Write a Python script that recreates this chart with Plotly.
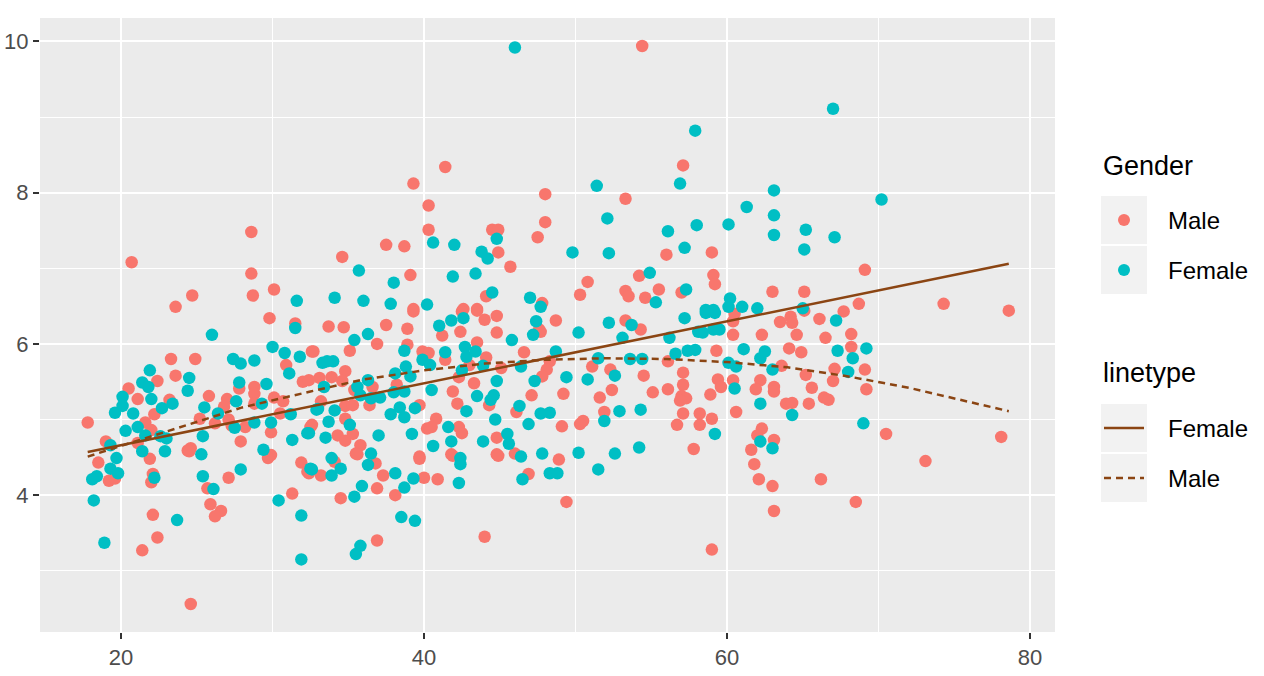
import plotly.graph_objects as go

# ---------------- data ----------------
male_age = [17.8, 19.0, 18.5, 19.2, 19.6, 20.5, 21.1, 21.6, 22.0, 21.1, 22.4, 22.2, 23.2, 23.6, 23.3, 24.9, 23.6,
            21.9, 22.1, 22.0, 25.2, 24.6, 24.4, 25.8, 26.2, 27.0, 26.8, 27.8, 28.8, 28.8, 28.8, 30.1, 30.7, 30.5,
            27.1, 27.3, 27.9, 28.2, 29.9, 29.9, 29.7, 32.5, 32.0, 32.6, 30.9, 31.5, 29.8, 20.7, 28.6, 28.6, 30.1,
            28.7, 24.7, 22.1, 22.4, 21.4, 24.6, 24.5, 27.1, 25.7, 25.9, 26.6, 26.2, 31.3, 31.9, 32.3,
            41.4, 39.3, 40.3, 40.3, 37.5, 38.7, 34.6, 39.1, 44.5, 44.9, 44.9, 45.7, 47.5, 48.0, 48.0, 44.1, 47.8,
            39.3, 42.6, 43.5,
            33.7, 34.7, 36.9, 37.5, 38.9, 39.3, 32.7, 35.1, 34.8, 33.1, 33.9, 34.6, 32.4, 36.6, 36.4, 35.4, 33.2,
            34.8, 35.3, 34.8, 32.6, 34.3, 35.3, 34.8, 35.8, 35.5, 38.9, 38.2, 39.7, 39.9, 40.3, 40.2, 40.8, 40.5,
            42.3, 42.5, 39.7, 41.8, 41.2, 42.5, 42.4, 43.5, 44.0, 44.8, 44.8, 41.4, 43.5, 43.0, 42.3, 44.1, 43.3,
            41.9, 42.2, 44.3, 45.1, 46.6, 47.6, 47.1, 46.1, 44.8, 44.8, 46.0,
            35.6, 36.8, 34.1, 33.2, 32.4, 37.3, 36.9, 34.5, 38.1, 40.0, 40.9, 39.7, 41.9, 44.9, 46.9, 36.9, 44.0,
            54.4, 57.1, 53.3, 56.0, 59.0, 54.2, 50.8, 50.3, 53.3, 53.5, 55.5, 54.6, 57.0, 59.1, 59.2, 63.0,
            48.7, 47.7, 53.3, 54.3, 60.4, 60.5, 60.4, 62.3, 48.3, 48.1, 47.8, 49.2, 51.1, 52.3, 52.4, 51.6, 51.9,
            50.5, 50.3, 49.1, 54.5, 55.1, 56.1, 57.1, 57.1, 56.1, 57.0, 57.3, 56.9, 57.1, 56.7, 58.2, 58.2, 59.0,
            58.9, 59.4, 59.6, 59.3, 60.4, 60.6, 62.2, 61.9, 57.8, 48.9, 62.3, 62.0, 61.6, 63.1,
            49.4, 59.0, 61.8, 62.1, 63.0, 63.1,
            69.1, 65.1, 68.7, 67.7, 74.3, 78.6, 65.1, 66.1, 64.2, 64.3, 63.5, 64.6, 66.5, 68.2, 64.1, 64.9, 68.2,
            63.6, 65.2, 67.1, 69.1, 67.0, 63.1, 63.1, 65.6, 69.2, 63.9, 64.3, 65.4, 66.4, 66.7, 70.5, 78.1, 73.1,
            66.2, 68.5]
male_val = [4.96, 4.71, 4.43, 4.19, 4.22, 5.41, 5.27, 4.96, 4.86, 4.69, 5.51, 5.07, 5.26, 5.58, 5.80, 5.80, 6.49,
            4.48, 4.28, 4.17, 5.01, 4.62, 4.59, 5.31, 4.95, 5.27, 5.17, 5.41, 5.43, 5.34, 5.21, 5.29, 5.24, 5.08,
            5.00, 4.92, 4.71, 4.90, 4.83, 4.53, 4.49, 4.90, 5.50, 5.90, 5.72, 6.27, 6.34, 7.08, 7.48, 6.93, 6.72,
            6.64, 6.64, 3.74, 3.44, 3.27, 2.56, 4.58, 4.23, 4.09, 3.88, 3.79, 3.72, 4.02, 4.43, 4.31,
            8.34, 8.12, 7.83, 7.51, 7.31, 7.29, 7.15, 6.91, 7.51, 7.51, 7.21, 7.02, 7.41, 7.61, 7.98, 6.63, 6.54,
            6.46, 6.46, 6.46,
            6.23, 6.22, 6.00, 6.25, 6.20, 6.43, 5.90, 5.91, 5.64, 5.55, 5.56, 5.51, 5.52, 5.43, 5.19, 5.39, 5.24,
            5.18, 5.19, 5.01, 4.93, 4.79, 4.81, 4.72, 4.66, 4.55, 5.99, 5.46, 5.19, 5.90, 5.88, 4.88, 5.01, 4.90,
            4.90, 4.82, 4.51, 4.54, 6.11, 6.43, 6.16, 6.44, 6.32, 6.37, 6.15, 5.79, 6.02, 5.72, 5.56, 5.82, 5.48,
            5.37, 5.21, 5.19, 5.68, 5.89, 6.19, 5.32, 5.10, 4.76, 4.54, 4.55,
            4.54, 4.42, 4.44, 4.26, 4.29, 4.26, 4.09, 3.96, 4.00, 4.23, 4.21, 4.48, 4.52, 4.52, 4.28, 3.40, 3.45,
            9.94, 8.36, 7.92, 7.18, 7.21, 6.90, 6.82, 6.65, 6.70, 6.63, 6.72, 6.61, 6.68, 6.91, 6.79, 6.69,
            6.31, 6.16, 6.31, 6.19, 6.30, 6.40, 6.12, 6.12, 5.77, 5.66, 5.57, 5.34, 5.70, 5.66, 5.39, 5.29, 5.10,
            4.98, 4.94, 4.91, 5.58, 5.36, 5.77, 5.62, 5.46, 5.40, 5.31, 5.28, 5.25, 5.08, 4.93, 5.08, 4.93, 5.01,
            5.33, 5.53, 5.43, 5.91, 5.52, 5.10, 5.52, 5.40, 4.61, 4.47, 4.88, 4.79, 4.60, 4.73,
            3.91, 3.28, 4.41, 4.21, 4.12, 3.79,
            6.98, 6.69, 6.53, 6.43, 6.53, 6.44, 6.44, 6.33, 6.36, 6.28, 6.29, 6.12, 6.08, 6.13, 5.94, 5.89, 5.96,
            5.71, 5.59, 5.67, 5.66, 5.51, 5.43, 5.37, 5.42, 5.40, 5.21, 5.22, 5.21, 5.29, 5.26, 4.81, 4.77, 4.45,
            4.21, 3.91]

female_age = [18.2, 18.1, 18.4, 18.9, 19.3, 19.7, 19.3, 19.8, 19.6, 20.1, 20.1, 20.8, 20.3, 21.1, 21.4, 21.9, 21.8,
              22.0, 21.6, 21.4, 22.7, 23.4, 24.5, 24.4, 26.0, 22.6, 23.0, 22.9, 25.4, 25.5, 25.3, 26.4, 27.6, 27.4,
              27.9, 28.8, 27.8, 29.3, 29.6, 31.2, 27.5, 28.8, 29.9, 29.4, 31.3, 32.3, 31.8, 31.1, 31.5, 30.0, 31.6,
              32.9, 30.8, 22.2, 23.7, 25.4, 27.9, 26.1, 30.4, 32.5, 31.9, 31.9,
              40.6, 42.0, 35.7, 38.0, 41.9, 43.4, 44.8, 43.8, 44.2, 44.5, 47.0, 47.7, 34.1, 36.0, 37.8, 40.2,
              35.4, 36.3, 33.3, 33.6, 34.0, 33.4, 36.3, 35.6, 35.8, 36.5, 37.1, 33.0, 34.1, 33.7, 35.1, 32.4, 33.5,
              36.5, 37.0, 33.9, 38.1, 38.8, 38.7, 39.1, 38.0, 38.7, 38.4, 39.4, 37.8, 38.7, 39.2, 39.9, 40.4, 40.5,
              41.6, 41.8, 40.6, 42.4, 41.0, 41.8, 42.6, 41.4, 42.7, 42.8, 43.4, 42.5, 43.9, 43.5, 42.8, 44.4, 44.6,
              44.8, 46.4, 45.8, 47.4, 47.2, 47.3, 46.3, 44.7, 45.5, 45.6, 46.9, 43.9, 47.7, 46.4, 47.8,
              36.3, 34.5, 33.9, 32.6, 38.1, 35.9, 35.4, 38.7, 39.3, 42.4, 42.3, 46.5, 38.5, 39.4, 35.8, 35.5, 46.0,
              57.9, 56.9, 51.4, 52.1, 56.1, 58.0, 60.1, 61.3, 63.1, 63.1, 63.1, 49.8, 52.2, 57.2, 54.9, 57.3, 55.3,
              60.2, 58.6, 59.1, 60.1, 61.0, 62.0,
              50.2, 52.2, 53.7, 53.1, 57.2, 58.6, 59.2, 58.1, 58.4, 59.1, 59.5, 56.2, 48.7, 49.4, 51.5, 50.8, 52.6,
              52.9, 51.9, 48.3, 54.3, 53.6, 54.4, 56.6, 57.4, 57.9, 59.2, 60.1, 60.6, 60.5, 61.1, 62.2, 62.5, 62.2,
              63.0, 54.2, 52.6, 50.2, 62.2, 63.0,
              48.3, 48.8, 51.5,
              67.0, 70.2, 65.2, 67.1, 65.1, 65.0, 67.2, 67.3, 69.2, 68.3, 68.0, 64.3, 69.0]
female_val = [3.93, 4.21, 4.25, 3.37, 4.66, 4.49, 4.35, 4.29, 5.09, 5.30, 5.18, 5.08, 4.85, 4.90, 5.49, 5.65, 5.43,
              5.27, 4.79, 4.58, 5.15, 5.21, 5.55, 5.38, 6.12, 4.78, 4.75, 4.58, 4.78, 5.16, 4.54, 5.08, 5.24, 5.80,
              5.74, 5.78, 5.49, 5.21, 5.47, 5.07, 4.89, 4.96, 4.96, 4.60, 4.73, 4.82, 5.83, 5.61, 6.21, 5.96, 6.57,
              5.13, 5.88, 4.23, 3.67, 4.25, 4.34, 4.08, 3.93, 4.35, 3.73, 3.15,
              7.34, 7.31, 6.97, 6.81, 6.89, 6.93, 7.39, 7.22, 7.13, 6.68, 6.61, 6.49, 6.61, 6.57, 6.53, 6.52,
              6.05, 6.13, 5.75, 5.77, 5.77, 5.43, 5.52, 5.43, 5.32, 5.28, 5.29, 5.14, 5.12, 4.97, 4.93, 4.82, 4.76,
              4.55, 4.79, 4.49, 5.61, 5.70, 5.91, 5.57, 5.36, 5.37, 5.16, 5.15, 5.07, 5.03, 4.81, 5.79, 5.72, 5.39,
              4.90, 4.71, 4.65, 4.49, 6.24, 6.31, 6.34, 5.89, 5.96, 5.83, 5.90, 5.65, 5.71, 5.31, 5.11, 5.26, 5.32,
              5.51, 5.70, 6.05, 6.30, 6.12, 5.51, 5.18, 5.00, 4.81, 4.68, 4.94, 4.71, 5.08, 4.51, 4.55,
              4.40, 4.35, 4.26, 4.34, 4.29, 4.12, 3.98, 4.10, 4.22, 4.41, 4.16, 4.21, 3.71, 3.66, 3.33, 3.22, 9.92,
              8.82, 8.12, 8.09, 7.66, 7.49, 7.57, 7.58, 7.81, 8.03, 7.70, 7.44, 7.21, 7.20, 7.27, 6.94, 6.72, 6.55,
              6.60, 6.45, 6.45, 6.49, 6.49, 6.47,
              6.15, 6.28, 6.25, 6.08, 6.34, 6.41, 6.41, 6.16, 6.15, 6.19, 6.19, 6.08, 5.90, 5.56, 5.81, 5.53, 5.58,
              5.11, 4.98, 5.09, 5.13, 5.80, 5.80, 5.87, 5.91, 5.92, 4.81, 5.75, 5.70, 5.41, 5.93, 5.81, 5.90, 5.21,
              5.66, 4.63, 4.55, 4.56, 4.71, 4.62,
              4.29, 4.29, 4.34,
              9.11, 7.91, 7.51, 7.41, 7.25, 6.47, 6.31, 5.91, 5.94, 5.81, 5.63, 5.06, 4.95]

# fitted lines
solid_x = [17.8, 30, 40, 50, 60, 70, 78.6]
solid_y = [4.57, 5.07, 5.48, 5.89, 6.30, 6.71, 7.06]
dotted_x = [17.8, 20, 23.6, 28, 32.5, 36, 40, 44, 48, 52, 56, 60, 64, 68, 72, 76, 78.6]
dotted_y = [4.51, 4.65, 4.88, 5.16, 5.37, 5.53, 5.65, 5.74, 5.79, 5.81, 5.80, 5.76, 5.69, 5.57, 5.42, 5.23, 5.11]

x_ticks = [20, 40, 60, 80]
y_ticks = [4, 6, 8, 10]

MALE_C = "#F8766D"
FEMALE_C = "#00BFC4"
LINE_C = "#8B4513"
FONT = "Liberation Sans, Arial, sans-serif"

fig = go.Figure()
fig.add_trace(go.Scatter(x=male_age, y=male_val, mode="markers", name="Male",
                         marker=dict(color=MALE_C, size=12.5, line=dict(width=0)), showlegend=False))
fig.add_trace(go.Scatter(x=female_age, y=female_val, mode="markers", name="Female",
                         marker=dict(color=FEMALE_C, size=12.5, line=dict(width=0)), showlegend=False))
fig.add_trace(go.Scatter(x=solid_x, y=solid_y, mode="lines", name="Female",
                         line=dict(color=LINE_C, width=2.5), showlegend=False))
fig.add_trace(go.Scatter(x=dotted_x, y=dotted_y, mode="lines", name="Male",
                         line=dict(color=LINE_C, width=2.5, dash="7px,5px"), showlegend=False))

# ----- layout geometry (pixels) -----
W, H = 1264, 676
L, R, T, B = 40, 209, 18, 44
pw, ph = W - L - R, H - T - B


def px(xp):
    return (xp - L) / pw


def py(yp):
    return (H - B - yp) / ph


shapes = []
annotations = []
# Legend: Gender
annotations.append(dict(x=px(1101), y=py(166), xref="paper", yref="paper", text="Gender", showarrow=False,
                        xanchor="left", yanchor="middle", font=dict(family=FONT, size=27, color="black")))
for i, (lab, col) in enumerate([("Male", MALE_C), ("Female", FEMALE_C)]):
    cy = 220 + 50 * i
    shapes.append(dict(type="rect", xref="paper", yref="paper", x0=px(1101), x1=px(1147),
                       y0=py(cy - 24), y1=py(cy + 24), fillcolor="#F2F2F2", line=dict(width=0), layer="below"))
    shapes.append(dict(type="circle", xref="paper", yref="paper", x0=px(1118), x1=px(1130),
                       y0=py(cy - 6), y1=py(cy + 6), fillcolor=col, line=dict(width=0)))
    annotations.append(dict(x=px(1166), y=py(cy), xref="paper", yref="paper", text=lab, showarrow=False,
                            xanchor="left", yanchor="middle", font=dict(family=FONT, size=24, color="black")))
# Legend: linetype
annotations.append(dict(x=px(1101), y=py(373), xref="paper", yref="paper", text="linetype", showarrow=False,
                        xanchor="left", yanchor="middle", font=dict(family=FONT, size=27, color="black")))
for i, (lab, dash) in enumerate([("Female", "solid"), ("Male", "7px,5px")]):
    cy = 428 + 50 * i
    shapes.append(dict(type="rect", xref="paper", yref="paper", x0=px(1101), x1=px(1147),
                       y0=py(cy - 24), y1=py(cy + 24), fillcolor="#F2F2F2", line=dict(width=0), layer="below"))
    shapes.append(dict(type="line", xref="paper", yref="paper", x0=px(1104), x1=px(1144),
                       y0=py(cy), y1=py(cy), line=dict(color=LINE_C, width=2.5, dash=dash)))
    annotations.append(dict(x=px(1166), y=py(cy), xref="paper", yref="paper", text=lab, showarrow=False,
                            xanchor="left", yanchor="middle", font=dict(family=FONT, size=24, color="black")))

axis_common = dict(showgrid=True, gridcolor="white", gridwidth=2, zeroline=False, showline=False,
                   ticks="outside", ticklen=6, tickwidth=1.5, tickcolor="#333333", automargin=False,
                   tickfont=dict(family=FONT, size=22, color="#4D4D4D"))
fig.update_layout(
    width=W, height=H,
    margin=dict(l=L, r=R, t=T, b=B, pad=0),
    paper_bgcolor="white", plot_bgcolor="#EBEBEB",
    xaxis=dict(range=[14.65, 81.65], tickvals=x_ticks, ticktext=[str(v) for v in x_ticks],
               minor=dict(tickvals=[30, 50, 70], showgrid=True, gridcolor="white", gridwidth=1, ticks=""),
               **axis_common),
    yaxis=dict(range=[2.19, 10.31], tickvals=y_ticks, ticktext=[str(v) for v in y_ticks],
               minor=dict(tickvals=[3, 5, 7, 9], showgrid=True, gridcolor="white", gridwidth=1, ticks=""),
               **axis_common),
    shapes=shapes, annotations=annotations, showlegend=False,
)
fig.write_html("out.html")
